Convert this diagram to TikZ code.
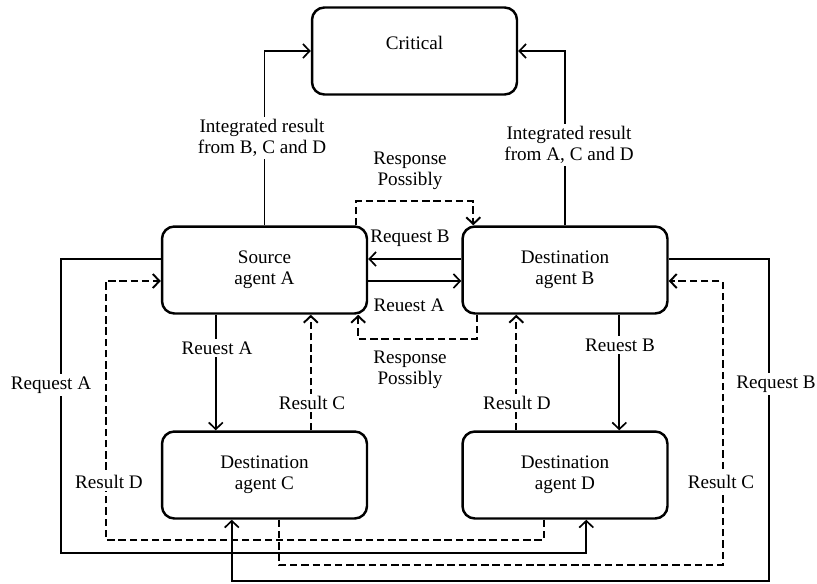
\documentclass[tikz,border=0pt]{standalone}
\usepackage{fontspec}
\setmainfont{Liberation Serif}
\usetikzlibrary{arrows.meta}
\usetikzlibrary{calc}
\tikzset{agent/.style = {draw, line width=1.4pt, rounded corners=7pt,
                         minimum width=4.1cm, minimum height=1.74cm, align=center}}
\tikzset{lbl/.style = {fill=white, inner sep=1.5pt, align=center}}
\tikzset{txt/.style = {inner sep=1.5pt, align=center}}
\tikzset{link/.style = {line width=0.95pt}}
\tikzset{dlink/.style = {line width=1.1pt, dash pattern=on 4.2pt off 2.2pt}}
\tikzset{>={Straight Barb[length=3.8pt, width=8pt]}}

\begin{document}
\begin{tikzpicture}[x=0.02cm, y=-0.02cm, font=\fontsize{10.9}{12}\selectfont]
  \useasboundingbox (0,0) rectangle (817,583);

  \node [agent, text depth=9pt] (crit) at (414.5, 51) {Critical};
  \node [agent] (srcA) at (264.5, 270) {Source\\agent A};
  \node [agent] (dstB) at (565, 270) {Destination\\agent B};
  \node [agent] (dstC) at (264.5, 475) {Destination\\agent C};
  \node [agent] (dstD) at (565, 475) {Destination\\agent D};

  % up to the critical node
  \draw [link, ->] (srcA.north) |- (crit.west);
  \draw [link, ->] (dstB.north) |- (crit.east);

  % between A and B
  \draw [link, ->] ($(dstB.west)+(0,-11)$) -- ($(srcA.east)+(0,-11)$);
  \draw [link, ->] ($(srcA.east)+(0,11)$) -- ($(dstB.west)+(0,11)$);
  \draw [dlink, ->] ($(srcA.north east)+(-12,0)$) -- ++(0,-24) -| ($(dstB.north west)+(12,0)$);
  \draw [dlink, ->] ($(dstB.south west)+(16,0)$) -- ++(0,24) -| ($(srcA.south east)+(-10,0)$);

  % requests down, results up
  \draw [link, ->] ($(srcA.south west)+(55,0)$) -- ($(dstC.north west)+(55,0)$);
  \draw [dlink, ->] ($(dstC.north west)+(150,0)$) -- ($(srcA.south west)+(150,0)$);
  \draw [link, ->] ($(dstB.south west)+(158,0)$) -- ($(dstD.north west)+(158,0)$);
  \draw [dlink, ->] ($(dstD.north west)+(55,0)$) -- ($(dstB.south west)+(55,0)$);

  % outer loops
  \draw [link, ->] ($(srcA.west)+(0,-11)$) -- ++(-100,0) -- ++(0,294) -| ($(dstD.south west)+(125,0)$);
  \draw [dlink, ->] ($(dstD.south west)+(83,0)$) -- ++(0,20) -| ($(srcA.west)+(-55,11)$) -- ($(srcA.west)+(0,11)$);
  \draw [dlink, ->] ($(dstC.south west)+(118,0)$) -- ++(0,45) -| ($(dstB.east)+(54,11)$) -- ($(dstB.east)+(0,11)$);
  \draw [link, ->] ($(dstB.east)+(0,-11)$) -- ++(100,0) -- ++(0,322) -| ($(dstC.south west)+(71,0)$);

  % labels
  \node [lbl] (intA) at (262, 138) {Integrated result\\from B, C and D};
  \node [lbl] (intB) at (569, 145) {Integrated result\\from A, C and D};
  \node [txt] (respTop) at (410, 171) {Response\\Possibly};
  \node [txt] (reqBab) at (410, 238) {Request B};
  \node [txt] (reqAab) at (409, 305) {Reuest A};
  \node [txt] (respBot) at (410, 370) {Response\\Possibly};
  \node [lbl] (reqAc) at (217, 348) {Reuest A};
  \node [lbl] (resCa) at (312, 403) {Result C};
  \node [lbl] (reqBd) at (620, 345) {Reuest B};
  \node [lbl] (resDb) at (517, 403) {Result D};
  \node [lbl] (reqAd) at (51, 385) {Request A};
  \node [lbl] (resDa) at (109, 482) {Result D};
  \node [lbl] (resCb) at (721, 482) {Result C};
  \node [lbl] (reqBc) at (776, 384) {Request B};
\end{tikzpicture}
\end{document}
